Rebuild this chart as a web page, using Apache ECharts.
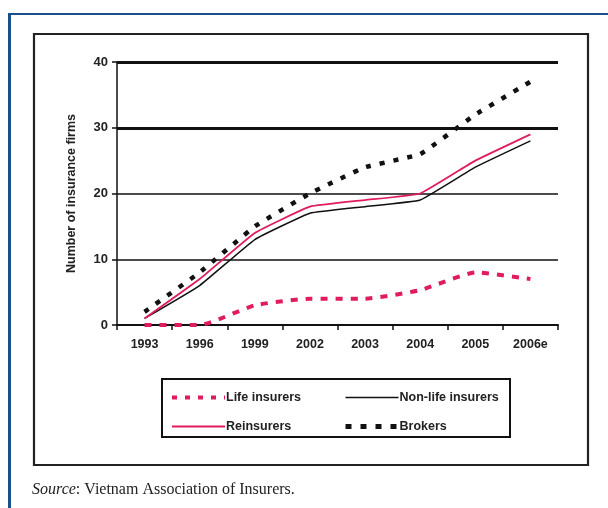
<!DOCTYPE html>
<html>
<head>
<meta charset="utf-8">
<script src="https://cdn.jsdelivr.net/npm/echarts@6/dist/echarts.min.js"></script>
<style>
html,body{margin:0;padding:0;background:#fff;}
#c{width:608px;height:508px;}
</style>
</head>
<body>
<div id="c"></div>
<script>
const categories = ['1993','1996','1999','2002','2003','2004','2005','2006e'];
const lifeInsurers = [0, 0, 3, 4, 4, 5.3, 8, 7];
const nonLifeInsurers = [1, 6, 13, 17, 18, 19, 24, 28];
const reinsurers = [1, 7, 14, 18, 19, 20, 25, 29];
const brokers = [2, 8, 15, 20, 24, 26, 32, 37];
const yTicks = [0, 10, 20, 30, 40];
const boldGrid = [30, 40];

const PINK = '#e01c5c';
const chart = echarts.init(document.getElementById('c'), null, {renderer:'canvas'});
const font = 'Arial, "Liberation Sans", sans-serif';
const legendText = {fontSize:12.5, fontWeight:'bold', color:'#222', fontFamily:font, padding:[0,0,0,-4]};
chart.setOption({
  animation:false,
  backgroundColor:'#fff',
  textStyle:{fontFamily:font},
  graphic:[
    {type:'rect', shape:{x:8, y:13, width:600, height:2}, style:{fill:'#1b4e8c'}, z:10},
    {type:'rect', shape:{x:8, y:13, width:3, height:495}, style:{fill:'#1b4e8c'}, z:10},
    {type:'rect', shape:{x:34, y:34, width:554, height:431}, style:{fill:'none', stroke:'#222', lineWidth:2.2}, z:10},
    {type:'rect', shape:{x:162, y:379, width:348, height:58}, style:{fill:'none', stroke:'#111', lineWidth:2}, z:10},
    {type:'text', left:32, top:482, style:{
      text:'{i|Source}: Vietnam Association of Insurers.',
      fontFamily:'"Liberation Serif", "Times New Roman", serif', fontSize:16, fill:'#222',
      rich:{i:{fontStyle:'italic', fontFamily:'"Liberation Serif", "Times New Roman", serif', fontSize:16, fill:'#222'}}
    }, z:10}
  ],
  grid:{left:117, right:50, top:62, bottom:183, containLabel:false},
  legend:[
    {data:[{name:'Life insurers', lineStyle:{width:4, type:[5,8]}}, {name:'Reinsurers', lineStyle:{width:1.8}}],
     orient:'vertical', left:165, top:386, itemWidth:53, itemHeight:12, itemGap:16,
     itemStyle:{opacity:0}, textStyle:legendText},
    {data:[{name:'Non-life insurers', lineStyle:{width:1.5}}, {name:'Brokers', lineStyle:{width:5, type:[6,9]}}],
     orient:'vertical', left:338, top:386, itemWidth:53, itemHeight:12, itemGap:16,
     itemStyle:{opacity:0}, textStyle:legendText}
  ],
  xAxis:{
    type:'category', data:categories, boundaryGap:true,
    axisLine:{lineStyle:{color:'#111', width:2}},
    axisTick:{show:true, interval:0, length:5, lineStyle:{color:'#111', width:1.5}},
    axisLabel:{margin:13, fontSize:12.5, fontWeight:'bold', color:'#222', fontFamily:font}
  },
  yAxis:{
    type:'value', min:0, max:40, interval:10,
    name:'Number of insurance firms', nameLocation:'middle', nameGap:39, nameRotate:90,
    nameTextStyle:{fontSize:12.5, fontWeight:'bold', color:'#222', fontFamily:font},
    axisLine:{show:true, lineStyle:{color:'#111', width:1.5}},
    axisTick:{show:true, length:5, lineStyle:{color:'#111', width:1.5}},
    axisLabel:{margin:9, fontSize:13, fontWeight:'bold', color:'#222', fontFamily:font,
      formatter:function(v){return yTicks.indexOf(v)>=0 ? String(v) : '';}},
    splitLine:{show:true, lineStyle:{color:'#111', width:1.5}}
  },
  series:[
    {name:'Life insurers', type:'line', data:lifeInsurers, symbol:'none', smooth:0.15,
     lineStyle:{color:PINK, width:4, type:[7,8]}, itemStyle:{color:PINK}, z:3,
     markLine:{silent:true, symbol:'none', label:{show:false},
       lineStyle:{color:'#111', width:3, type:'solid'},
       data:boldGrid.map(v=>({yAxis:v}))}},
    {name:'Non-life insurers', type:'line', data:nonLifeInsurers, symbol:'none', smooth:0.1,
     lineStyle:{color:'#111', width:1.5, type:'solid'}, itemStyle:{color:'#111'}, z:3},
    {name:'Reinsurers', type:'line', data:reinsurers, symbol:'none', smooth:0.1,
     lineStyle:{color:PINK, width:1.8, type:'solid'}, itemStyle:{color:PINK}, z:4},
    {name:'Brokers', type:'line', data:brokers, symbol:'none', smooth:0.1,
     lineStyle:{color:'#111', width:4.5, type:[5,9]}, itemStyle:{color:'#111'}, z:5}
  ]
});
</script>
</body>
</html>
